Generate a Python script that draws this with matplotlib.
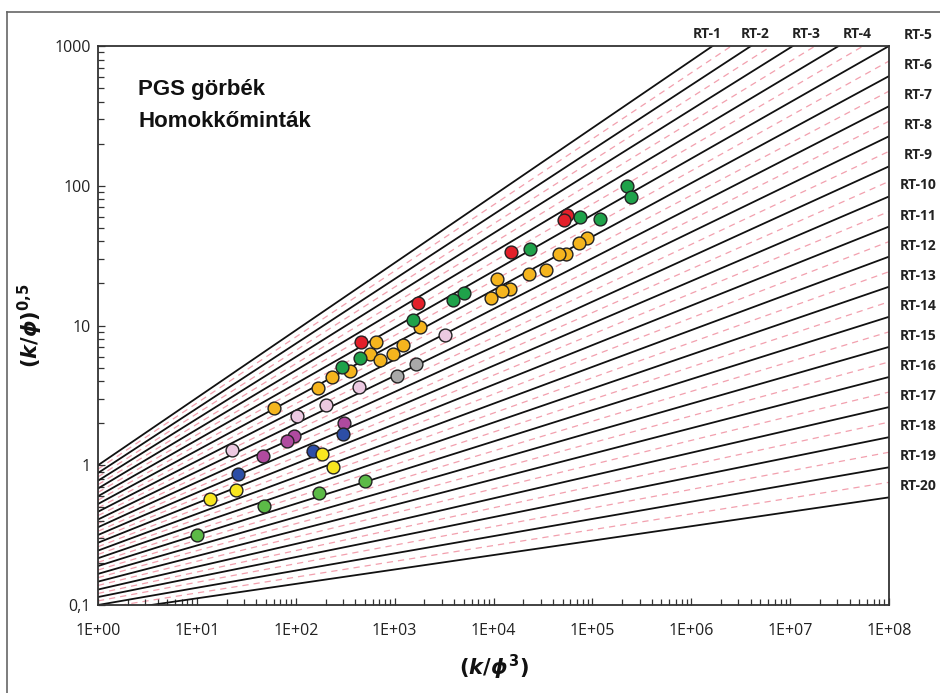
import matplotlib
matplotlib.use("Agg")
import matplotlib.pyplot as plt
from matplotlib.lines import Line2D
from matplotlib.ticker import LogLocator, NullFormatter, FixedLocator, FixedFormatter

plt.rcParams['font.family'] = ['Open Sans', 'DejaVu Sans']
plt.rcParams['mathtext.fontset'] = 'custom'
plt.rcParams['mathtext.rm'] = 'DejaVu Sans:bold'
plt.rcParams['mathtext.it'] = 'DejaVu Sans:italic:bold'
plt.rcParams['mathtext.bf'] = 'DejaVu Sans:bold'

# ---------------- data ----------------
rt_labels = [f"RT-{i}" for i in range(1, 21)]
# solid RT boundary lines: value at x=1 and at x=1e8
rt_y_at_x1 = [1.000, 0.880, 0.775, 0.682, 0.600, 0.528, 0.465, 0.409, 0.360, 0.317,
              0.279, 0.245, 0.216, 0.190, 0.167, 0.147, 0.129, 0.114, 0.100, 0.088]
rt_y_at_x1e8 = [7261, 4423, 2694, 1641, 999.5, 608.8, 370.8, 225.9, 137.6, 83.8,
                51.04, 31.09, 18.94, 11.54, 7.027, 4.280, 2.607, 1.588, 0.967, 0.589]
# dashed mid lines
mid_y_at_x1 = [0.938, 0.825, 0.726, 0.639, 0.563, 0.495, 0.436, 0.383, 0.337, 0.297,
               0.261, 0.230, 0.202, 0.178, 0.157, 0.138, 0.121, 0.107, 0.094]
mid_y_at_x1e8 = [5667, 3452, 2103, 1281, 780.1, 475.2, 289.4, 176.3, 107.4, 65.4,
                 39.84, 24.27, 14.78, 9.004, 5.484, 3.341, 2.035, 1.239, 0.755]
x_ends = [1.0, 1e8]

# sample points (k/phi^3, (k/phi)^0.5)
green_x = [2.24e5, 2.46e5, 7.50e4, 1.19e5, 2.34e4, 5.03e3, 3.89e3, 1.535e3, 446, 294]
green_y = [99.6, 83.1, 59.7, 57.8, 35.3, 17.1, 15.2, 10.95, 5.85, 5.05]
red_x = [5.54e4, 5.16e4, 1.50e4, 1.72e3, 457]
red_y = [61.8, 56.9, 33.6, 14.5, 7.62]
orange_x = [8.83e4, 7.33e4, 5.41e4, 4.60e4, 3.40e4, 2.29e4, 1.085e4, 1.47e4, 1.22e4, 9.44e3,
            1.81e3, 648, 1.215e3, 963, 564, 711, 354, 233, 168, 60.3]
orange_y = [42.3, 38.9, 32.5, 32.5, 24.9, 23.4, 21.5, 18.2, 17.7, 15.7,
            9.76, 7.62, 7.25, 6.25, 6.25, 5.66, 4.73, 4.28, 3.57, 2.57]
lpink_x = [3.23e3, 436, 202, 103, 22.7]
lpink_y = [8.55, 3.63, 2.70, 2.25, 1.285]
magenta_x = [308, 96.0, 81.5, 46.6]
magenta_y = [2.01, 1.62, 1.49, 1.165]
blue_x = [301, 149, 26.1]
blue_y = [1.67, 1.265, 0.866]
yellow_x = [184, 238, 24.9, 13.6]
yellow_y = [1.204, 0.972, 0.665, 0.573]
lgreen_x = [502, 172, 47.7, 10.0]
lgreen_y = [0.772, 0.633, 0.511, 0.317]
gray_x = [1.645e3, 1.057e3]
gray_y = [5.30, 4.35]

x_tick_values = [1e0, 1e1, 1e2, 1e3, 1e4, 1e5, 1e6, 1e7, 1e8]
x_tick_labels = ["1E+00", "1E+01", "1E+02", "1E+03", "1E+04", "1E+05", "1E+06", "1E+07", "1E+08"]
y_tick_values = [0.1, 1, 10, 100, 1000]
y_tick_labels = ["0,1", "1", "10", "100", "1000"]

# ---------------- figure ----------------
W, H = 940, 693
fig = plt.figure(figsize=(W / 100, H / 100), dpi=100)
ax = fig.add_axes([98 / W, 1 - 605 / H, (889 - 98) / W, (605 - 46) / H])

# outer frame
fig.add_artist(Line2D([7 / W, 7 / W], [1 - 12 / H, 0], transform=fig.transFigure, color='#666666', lw=1.2))
fig.add_artist(Line2D([7 / W, 1], [1 - 12 / H, 1 - 12 / H], transform=fig.transFigure, color='#666666', lw=1.2))

for a, b in zip(mid_y_at_x1, mid_y_at_x1e8):
    ax.plot(x_ends, [a, b], color='#f2a0ae', lw=0.9, ls=(0, (5, 4)), zorder=1)
for a, b in zip(rt_y_at_x1, rt_y_at_x1e8):
    ax.plot(x_ends, [a, b], color='#111111', lw=1.3, zorder=2)

groups = [
    (orange_x, orange_y, '#f5b51e'),
    (green_x, green_y, '#1fa24a'),
    (red_x, red_y, '#e3202a'),
    (lpink_x, lpink_y, '#ecc9e1'),
    (magenta_x, magenta_y, '#b04a9f'),
    (blue_x, blue_y, '#2d4ea6'),
    (yellow_x, yellow_y, '#f8e61f'),
    (lgreen_x, lgreen_y, '#5cba47'),
    (gray_x, gray_y, '#a9a9a9'),
]
for gx, gy, c in groups:
    ax.scatter(gx, gy, s=85, color=c, edgecolor='#222222', linewidth=1.0, zorder=5, clip_on=False)

ax.set_xscale('log')
ax.set_yscale('log')
ax.set_xlim(1, 1e8)
ax.set_ylim(0.1, 1000)

ax.xaxis.set_major_locator(FixedLocator(x_tick_values))
ax.xaxis.set_major_formatter(FixedFormatter(x_tick_labels))
ax.yaxis.set_major_locator(FixedLocator(y_tick_values))
ax.yaxis.set_major_formatter(FixedFormatter(y_tick_labels))
ax.xaxis.set_minor_locator(LogLocator(base=10, subs=range(2, 10), numticks=100))
ax.yaxis.set_minor_locator(LogLocator(base=10, subs=range(2, 10), numticks=100))
ax.xaxis.set_minor_formatter(NullFormatter())
ax.yaxis.set_minor_formatter(NullFormatter())
ax.tick_params(axis='both', which='both', direction='in', color='#333333', width=0.9,
               top=False, right=False)
ax.tick_params(axis='both', which='major', length=5)
ax.tick_params(axis='both', which='minor', length=4)
ax.tick_params(axis='x', which='major', pad=13, labelsize=11.5, labelcolor='#222222')
ax.tick_params(axis='y', which='major', pad=5, labelsize=11.5, labelcolor='#222222')
for sp in ax.spines.values():
    sp.set_color('#333333')
    sp.set_linewidth(1.3)

ax.set_xlabel(r'$\mathrm{(}k/\phi^{\mathrm{3}}\mathrm{)}$', fontsize=15, labelpad=10, color='#111111')
ax.set_ylabel(r'$\mathrm{(}k/\phi\mathrm{)}^{\mathrm{0{,}5}}$', fontsize=15, labelpad=7, color='#111111')

# title
fig.text(138 / W, 1 - 95 / H, "PGS görbék", family='Liberation Sans', weight='bold',
         fontsize=16, va='baseline', ha='left', color='#111111')
fig.text(138 / W, 1 - 127 / H, "Homokkőminták", family='Liberation Sans', weight='bold',
         fontsize=16, va='baseline', ha='left', color='#111111')

# RT labels
top_label_px = [707, 755, 806, 857]
for lab, px in zip(rt_labels[:4], top_label_px):
    ax.text((px - 98) / (889 - 98), (605 - 34) / (605 - 46), lab, transform=ax.transAxes,
            ha='center', va='center', fontsize=10, weight='bold', color='#222222')
for lab, yend in zip(rt_labels[4:], rt_y_at_x1e8[4:]):
    ax.annotate(lab, xy=(1, yend), xycoords=('axes fraction', 'data'),
                xytext=(29, 11), textcoords='offset pixels',
                ha='center', va='center', fontsize=10, weight='bold', color='#222222',
                annotation_clip=False)

fig.savefig('out.png', dpi=100)
